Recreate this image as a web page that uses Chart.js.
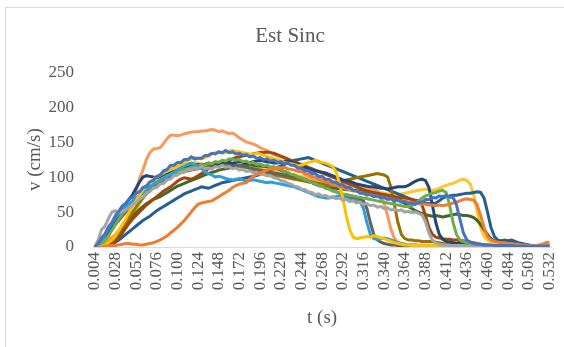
<!doctype html>
<html lang="pt-br">
<head>
	<meta charset="utf-8">
	<title>Est Sinc</title>
	<style>
		* {
			margin: 0;
			padding: 0;
		}

		body {
			background: white;
			overflow: hidden;
			width: 564px;
			height: 347px;
		}

		.chartBox {
			position: absolute;
			left: 5px;
			top: 7px;
			width: 600px;
			height: 360px;
			border: solid 1px #d9d9d9;
		}

		#myChart {
			position: absolute;
			left: -1px;
			top: -1px;
		}
	</style>
</head>

<body>
	<div class="chartBox">
		<canvas id="myChart" width="570" height="340"></canvas>
	</div>

	<script src="https://cdn.jsdelivr.net/npm/chart.js"></script>

	<script>
		/*=====Dados=====*/
		// t de 0.004 a 0.532 s, passo 0.004 s
		const tempos = Array.from({ length: 133 }, (_, i) => ((i + 1) * 0.004).toFixed(3));

		const azul = [
			0, 5, 13, 19, 29, 35, 45, 51, 59, 62,
			69, 71, 77, 79, 85, 87, 93, 95, 101, 103,
			109, 111, 117, 117, 121, 121, 125, 125, 129, 126,
			127, 127, 131, 131, 134, 133, 136, 135, 138, 135,
			136, 133, 134, 131, 132, 129, 130, 127, 128, 125,
			126, 123, 124, 121, 122, 119, 120, 117, 117, 113,
			113, 109, 109, 105, 105, 101, 101, 97, 97, 93,
			93, 89, 89, 85, 85, 81, 81, 77, 77, 74,
			75, 72, 73, 70, 71, 68, 69, 66, 67, 64,
			65, 62, 63, 61, 64, 64, 68, 68, 71, 70,
			73, 72, 74, 71, 71, 60, 40, 20, 10, 7,
			5, 4, 4, 3, 3, 3, 2, 2, 2, 2,
			2, 2, 1, 1, 1, 1, 1, 1, 1, 1,
			1, 1, 1
		];
		const laranja = [
			0, 0, 0, 1, 1, 2, 2, 3, 4, 5,
			5, 4, 4, 3, 3, 4, 5, 6, 8, 10,
			13, 16, 20, 24, 28, 33, 38, 44, 50, 56,
			61, 63, 64, 65, 66, 69, 72, 75, 78, 81,
			85, 88, 90, 91, 92, 97, 101, 104, 106, 108,
			110, 112, 111, 114, 113, 114, 112, 111, 110, 108,
			108, 105, 104, 101, 100, 97, 96, 93, 92, 89,
			88, 86, 85, 83, 82, 80, 80, 78, 77, 75,
			75, 73, 73, 71, 71, 69, 69, 67, 67, 65,
			66, 64, 64, 62, 62, 61, 61, 60, 60, 59,
			60, 59, 60, 61, 63, 64, 66, 68, 69, 68,
			67, 60, 45, 28, 15, 10, 8, 7, 6, 6,
			5, 5, 4, 4, 3, 3, 2, 2, 2, 3,
			4, 6, 7
		];
		const cinza = [
			0, 10, 25, 30, 41, 50, 52, 49, 51, 53,
			56, 61, 63, 69, 71, 77, 79, 84, 85, 90,
			91, 96, 97, 102, 103, 107, 107, 111, 110, 113,
			112, 115, 112, 113, 112, 115, 114, 117, 114, 115,
			112, 113, 110, 111, 108, 109, 106, 107, 104, 104,
			102, 102, 99, 98, 95, 94, 91, 90, 87, 86,
			83, 82, 79, 78, 75, 76, 73, 74, 71, 72,
			69, 70, 67, 68, 65, 66, 63, 64, 61, 62,
			59, 60, 57, 58, 55, 56, 53, 54, 52, 53,
			50, 51, 49, 50, 48, 46, 36, 20, 10, 6,
			4, 3, 3, 2, 2, 2, 2, 2, 1, 1,
			1, 1, 1, 1, 1, 1, 1, 1, 1, 1,
			1, 1, 1, 1, 1, 1, 1, 1, 1, 1,
			1, 1, 1
		];
		const amarelo = [
			0, 0, 1, 3, 6, 10, 16, 24, 32, 40,
			50, 58, 66, 74, 82, 88, 93, 97, 100, 103,
			106, 109, 112, 114, 116, 118, 120, 124, 126, 128,
			127, 126, 128, 130, 133, 135, 136, 134, 135, 137,
			138, 137, 136, 135, 134, 133, 132, 134, 133, 131,
			130, 128, 126, 125, 123, 121, 120, 119, 118, 116,
			117, 119, 121, 122, 124, 122, 121, 120, 118, 115,
			108, 92, 70, 45, 25, 14, 12, 13, 14, 15,
			14, 16, 15, 13, 12, 10, 8, 6, 5, 4,
			3, 3, 2, 2, 2, 2, 2, 2, 2, 2,
			2, 2, 2, 2, 1, 1, 1, 1, 1, 1,
			1, 1, 1, 1, 1, 1, 1, 1, 1, 1,
			1, 1, 1, 1, 1, 1, 1, 1, 1, 1,
			1, 1, 1
		];
		const celeste = [
			0, 4, 10, 18, 26, 34, 42, 48, 54, 58,
			62, 66, 70, 74, 78, 82, 86, 89, 92, 95,
			98, 101, 104, 107, 110, 113, 116, 118, 120, 118,
			115, 112, 108, 105, 103, 100, 101, 100, 98, 97,
			96, 97, 98, 96, 94, 95, 96, 95, 94, 93,
			92, 93, 92, 91, 90, 89, 88, 87, 86, 84,
			82, 80, 78, 76, 74, 72, 71, 70, 70, 71,
			72, 73, 72, 70, 68, 67, 66, 65, 55, 35,
			18, 12, 11, 12, 13, 12, 10, 8, 6, 5,
			4, 3, 3, 3, 2, 2, 2, 2, 2, 2,
			2, 2, 2, 2, 2, 1, 1, 1, 1, 1,
			1, 1, 1, 1, 1, 1, 1, 1, 1, 1,
			1, 1, 1, 1, 1, 1, 1, 1, 1, 1,
			1, 1, 1
		];
		const verde = [
			0, 2, 5, 10, 16, 24, 32, 40, 47, 53,
			58, 63, 68, 73, 78, 82, 86, 90, 93, 96,
			99, 102, 104, 106, 108, 110, 111, 112, 114, 115,
			116, 118, 117, 120, 119, 122, 121, 124, 123, 126,
			126, 124, 125, 122, 123, 120, 121, 118, 119, 116,
			117, 114, 115, 112, 111, 108, 107, 104, 103, 100,
			99, 96, 95, 92, 91, 88, 87, 84, 83, 80,
			79, 77, 76, 75, 74, 73, 72, 71, 70, 69,
			68, 67, 66, 65, 64, 63, 62, 61, 60, 59,
			58, 58, 59, 62, 66, 70, 73, 75, 77, 78,
			80, 81, 78, 60, 35, 18, 10, 8, 6, 5,
			5, 4, 4, 3, 3, 2, 2, 2, 2, 1,
			1, 1, 1, 1, 1, 1, 1, 1, 1, 1,
			1, 1, 1
		];
		const marinho = [
			0, 2, 8, 15, 22, 30, 38, 46, 55, 62,
			68, 75, 84, 93, 100, 102, 101, 100, 99, 101,
			103, 104, 106, 108, 110, 112, 113, 114, 116, 117,
			118, 117, 118, 120, 119, 118, 120, 121, 122, 121,
			120, 121, 122, 121, 120, 121, 122, 123, 124, 123,
			122, 121, 120, 120, 121, 122, 123, 122, 120, 118,
			116, 114, 112, 110, 109, 108, 107, 106, 104, 102,
			100, 98, 96, 95, 94, 92, 90, 89, 88, 87,
			86, 86, 85, 84, 84, 83, 84, 85, 86, 86,
			86, 88, 91, 94, 96, 97, 95, 85, 60, 35,
			18, 11, 8, 7, 6, 5, 5, 4, 4, 3,
			3, 3, 3, 3, 2, 2, 2, 2, 2, 2,
			2, 2, 2, 1, 1, 1, 1, 1, 1, 1,
			1, 1, 1
		];
		const marrom = [
			0, 0, 0, 1, 2, 4, 8, 14, 20, 27,
			34, 40, 45, 50, 55, 60, 64, 68, 72, 76,
			80, 83, 86, 90, 94, 97, 99, 98, 97, 99,
			102, 105, 108, 112, 115, 117, 119, 121, 122, 124,
			126, 128, 129, 130, 131, 132, 133, 134, 135, 135,
			136, 135, 134, 132, 130, 128, 126, 124, 122, 120,
			118, 116, 114, 112, 110, 108, 106, 104, 102, 100,
			98, 96, 94, 92, 90, 88, 86, 84, 82, 80,
			79, 78, 77, 76, 75, 74, 73, 72, 71, 70,
			70, 69, 68, 67, 66, 60, 45, 28, 18, 14,
			13, 12, 11, 11, 10, 10, 9, 9, 8, 7,
			6, 5, 4, 3, 3, 2, 2, 2, 2, 2,
			1, 1, 1, 1, 1, 1, 1, 1, 1, 1,
			1, 1, 1
		];
		const cinzaEscuro = [
			0, 2, 6, 12, 18, 25, 32, 38, 44, 50,
			56, 62, 68, 73, 78, 82, 86, 89, 92, 95,
			98, 100, 102, 104, 106, 108, 109, 110, 111, 112,
			113, 114, 115, 116, 117, 118, 118, 119, 119, 118,
			118, 117, 116, 115, 114, 113, 112, 111, 110, 109,
			108, 107, 106, 105, 104, 103, 102, 101, 100, 99,
			98, 97, 95, 93, 91, 89, 87, 85, 83, 81,
			79, 77, 75, 73, 71, 70, 69, 68, 66, 55,
			35, 18, 10, 7, 5, 4, 3, 3, 2, 2,
			2, 2, 2, 2, 1, 1, 1, 1, 1, 1,
			1, 1, 1, 1, 1, 1, 1, 1, 1, 1,
			1, 1, 1, 1, 1, 1, 1, 1, 1, 1,
			1, 1, 1, 1, 1, 1, 1, 1, 1, 1,
			1, 1, 1
		];
		const oliva = [
			0, 0, 1, 3, 6, 10, 15, 21, 28, 35,
			42, 50, 57, 64, 70, 76, 81, 85, 89, 92,
			95, 98, 100, 102, 104, 106, 108, 109, 110, 111,
			112, 113, 114, 115, 116, 116, 117, 117, 118, 118,
			118, 117, 116, 115, 114, 112, 110, 108, 107, 106,
			105, 104, 103, 102, 101, 100, 99, 98, 97, 96,
			95, 94, 93, 93, 92, 91, 90, 89, 88, 88,
			90, 92, 94, 96, 97, 98, 99, 100, 101, 102,
			103, 104, 105, 104, 103, 100, 85, 60, 35, 18,
			12, 10, 10, 9, 9, 8, 8, 8, 8, 7,
			6, 5, 4, 3, 2, 2, 2, 2, 2, 2,
			1, 1, 1, 1, 1, 1, 1, 1, 1, 1,
			1, 1, 1, 1, 1, 1, 1, 1, 1, 1,
			1, 1, 1
		];
		const aco = [
			0, 0, 0, 1, 3, 5, 7, 10, 14, 18,
			22, 26, 30, 34, 38, 41, 44, 48, 52, 55,
			58, 61, 64, 67, 70, 73, 76, 78, 80, 82,
			84, 86, 85, 84, 86, 88, 90, 92, 93, 94,
			95, 96, 97, 98, 99, 100, 101, 102, 104, 106,
			108, 110, 112, 114, 116, 118, 120, 122, 124, 125,
			126, 127, 128, 126, 124, 122, 120, 118, 116, 114,
			112, 110, 108, 106, 104, 102, 100, 98, 96, 94,
			92, 90, 88, 86, 84, 82, 80, 78, 76, 74,
			72, 70, 68, 66, 65, 64, 63, 62, 62, 63,
			66, 70, 72, 73, 74, 74, 75, 76, 77, 77,
			78, 79, 78, 70, 50, 28, 15, 10, 8, 8,
			9, 10, 8, 6, 5, 4, 3, 2, 2, 2,
			1, 1, 1
		];
		const verdeEscuro = [
			0, 0, 1, 3, 6, 10, 15, 20, 26, 32,
			38, 44, 49, 54, 58, 62, 65, 68, 70, 72,
			75, 78, 81, 84, 87, 89, 91, 93, 95, 97,
			99, 101, 103, 105, 107, 108, 110, 111, 112, 113,
			114, 115, 116, 117, 118, 118, 117, 116, 116, 115,
			115, 114, 113, 112, 110, 108, 106, 104, 102, 100,
			98, 96, 94, 92, 90, 88, 87, 86, 85, 85,
			84, 83, 83, 82, 82, 81, 80, 80, 79, 78,
			78, 77, 76, 75, 74, 73, 72, 71, 70, 66,
			62, 58, 55, 52, 50, 48, 46, 45, 44, 45,
			44, 43, 44, 45, 46, 47, 46, 45, 45, 44,
			42, 38, 32, 25, 18, 12, 9, 8, 9, 10,
			8, 6, 5, 4, 3, 2, 2, 2, 1, 1,
			1, 1, 1
		];
		const pessego = [
			0, 2, 5, 8, 10, 14, 18, 24, 30, 38,
			45, 62, 80, 98, 110, 125, 135, 140, 141, 142,
			148, 155, 160, 160, 159, 160, 162, 163, 164, 165,
			165, 166, 166, 167, 168, 167, 165, 166, 164, 162,
			163, 160, 156, 153, 150, 149, 147, 145, 142, 140,
			138, 135, 132, 130, 129, 127, 124, 120, 116, 112,
			108, 104, 101, 98, 96, 95, 94, 93, 92, 92,
			91, 90, 90, 89, 90, 88, 87, 86, 85, 84,
			84, 83, 80, 75, 62, 45, 25, 12, 7, 5,
			4, 3, 3, 3, 3, 3, 3, 3, 3, 3,
			2, 2, 2, 2, 2, 2, 2, 2, 2, 2,
			1, 1, 1, 1, 1, 1, 1, 1, 1, 1,
			1, 1, 1, 1, 1, 1, 1, 1, 1, 1,
			1, 1, 1
		];
		const amarelo2 = [
			0, 0, 2, 4, 6, 9, 13, 18, 24, 30,
			38, 46, 54, 62, 70, 78, 85, 90, 95, 99,
			103, 106, 110, 113, 115, 117, 118, 119, 120, 121,
			120, 119, 118, 119, 120, 121, 120, 119, 118, 117,
			117, 116, 116, 115, 116, 115, 114, 114, 113, 112,
			112, 111, 110, 108, 107, 106, 105, 104, 103, 102,
			101, 100, 99, 98, 97, 96, 95, 94, 93, 92,
			91, 90, 89, 88, 87, 86, 85, 84, 83, 82,
			81, 80, 79, 78, 77, 76, 76, 75, 75, 76,
			77, 78, 79, 80, 81, 82, 83, 82, 81, 82,
			84, 86, 88, 90, 91, 93, 96, 97, 95, 90,
			75, 50, 28, 15, 10, 7, 5, 4, 3, 3,
			2, 2, 2, 2, 2, 2, 1, 1, 1, 1,
			1, 1, 1
		];
		/*=====Fim Dados=====*/

		/*=====Series=====*/
		const series = [
			{ data: azul, color: '#4472C4' },
			{ data: laranja, color: '#ED7D31' },
			{ data: cinza, color: '#A5A5A5' },
			{ data: amarelo, color: '#FFC000' },
			{ data: celeste, color: '#2E9FDB' },
			{ data: verde, color: '#70AD47' },
			{ data: marinho, color: '#264478' },
			{ data: marrom, color: '#9E480E' },
			{ data: cinzaEscuro, color: '#636363' },
			{ data: oliva, color: '#997300' },
			{ data: aco, color: '#255E91' },
			{ data: verdeEscuro, color: '#43682B' },
			{ data: pessego, color: '#F79A5C' },
			{ data: amarelo2, color: '#FFC62A' }
		];

		const textColor = '#595959';
		const serif = "'Liberation Serif', 'DejaVu Serif', serif";

		const data = {
			labels: tempos,
			datasets: series.map((s, i) => ({
				label: 'S' + (i + 1),
				data: s.data,
				borderColor: s.color,
				backgroundColor: s.color,
				borderWidth: 3,
				pointRadius: 0,
				tension: 0,
				fill: false
			}))
		};
		/*=====Fim Series=====*/

		/*=====Config=====*/
		const config = {
			type: 'line',
			data,
			options: {
				responsive: false,
				animation: false,
				layout: {
					padding: { left: 19, right: 19, top: 7, bottom: 0 }
				},
				plugins: {
					legend: { display: false },
					tooltip: { enabled: false },
					title: {
						display: true,
						text: 'Est Sinc',
						color: textColor,
						font: { family: serif, size: 21, weight: 'normal' },
						padding: { top: 10, bottom: 23 }
					}
				},
				scales: {
					x: {
						type: 'category',
						offset: true,
						grid: { display: false, drawTicks: false },
						border: { display: true, color: '#d9d9d9', width: 1 },
						ticks: {
							autoSkip: false,
							minRotation: 90,
							maxRotation: 90,
							padding: 5,
							color: textColor,
							font: { family: serif, size: 17 },
							callback: function (value, index) {
								return index % 6 === 0 ? this.getLabelForValue(value) : '';
							}
						},
						title: {
							display: true,
							text: 't (s)',
							color: textColor,
							font: { family: serif, size: 19 },
							padding: { top: 0, bottom: 18 }
						},
						afterFit: (scale) => { scale.height = 100; }
					},
					y: {
						min: 0,
						max: 250,
						grid: { display: false, drawTicks: false },
						border: { display: false },
						ticks: {
							stepSize: 50,
							padding: 19,
							color: textColor,
							font: { family: serif, size: 17 }
						},
						title: {
							display: true,
							text: 'v (cm/s)',
							color: textColor,
							font: { family: serif, size: 19 },
							padding: { top: 0, bottom: 0 }
						},
						afterFit: (scale) => { scale.width = 69; }
					}
				}
			}
		};

		const myChart = new Chart(document.getElementById('myChart'), config);
	</script>
</body>
</html>
